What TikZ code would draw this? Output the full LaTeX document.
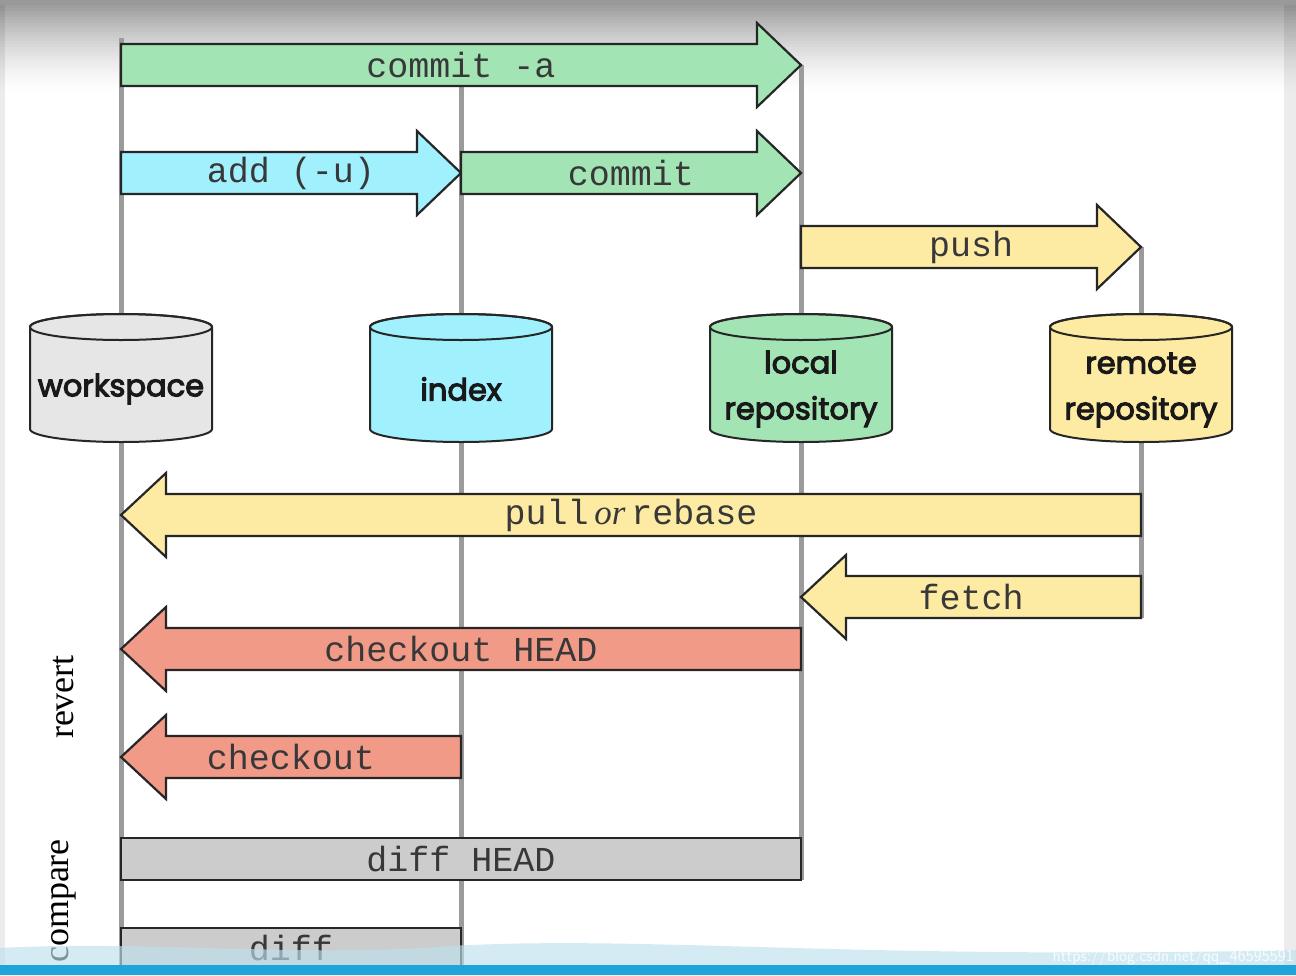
\documentclass[tikz,border=0pt]{standalone}
\usepackage{fontspec}
\setmainfont{Liberation Serif}
\setmonofont{Liberation Mono}
\newfontfamily\cylf{Poppins}[UprightFeatures={FakeBold=3.5}]
\definecolor{cgreen}{RGB}{163,228,181}
\definecolor{ccyan}{RGB}{160,240,254}
\definecolor{cyellow}{RGB}{253,235,163}
\definecolor{csalmon}{RGB}{241,154,136}
\definecolor{cbox}{RGB}{204,204,204}
\definecolor{cws}{RGB}{230,230,230}
\definecolor{cline}{RGB}{155,155,155}
\definecolor{cedge}{RGB}{236,236,236}
\definecolor{cbar}{RGB}{31,163,219}
\definecolor{cwave}{RGB}{190,225,238}
\tikzset{
  arrowbox/.style={draw=black!85,line width=2.2pt,line join=miter},
  mono/.style={font=\ttfamily\fontsize{35}{40}\selectfont,text=black!78,inner sep=0pt},
  cyltext/.style={font=\cylf\fontsize{30.5}{46}\selectfont,align=center,text=black!90,inner sep=0pt},
  sidetext/.style={font=\rmfamily\fontsize{36}{40}\selectfont,rotate=90,inner sep=0pt},
  vline/.style={draw=cline,line width=5pt},
}
% right arrow: #1 tail x, #2 tip x, #3 centre y, #4 colour, #5 text, #6 name
\newcommand{\RArrow}[6]{%
  \draw[arrowbox,fill=#4] (#1,#3-21) -- (#2-44,#3-21) -- (#2-44,#3-42) -- (#2,#3)
     -- (#2-44,#3+42) -- (#2-44,#3+21) -- (#1,#3+21) -- cycle;
  \node[mono] (#6) at ({(#1+#2)/2},#3) {#5};}
% left arrow: #1 tip x, #2 tail x
\newcommand{\LArrow}[6]{%
  \draw[arrowbox,fill=#4] (#2,#3-21) -- (#1+45,#3-21) -- (#1+45,#3-42) -- (#1,#3)
     -- (#1+45,#3+42) -- (#1+45,#3+21) -- (#2,#3+21) -- cycle;
  \node[mono] (#6) at ({(#1+#2)/2},#3) {#5};}
\newcommand{\Cyl}[2]{% centre x, colour
  \draw[draw=black!85,line width=2pt,fill=#2] (#1-91,327) -- (#1-91,429)
     arc (180:0:91 and 13) -- (#1+91,327) arc (360:180:91 and 13) -- cycle;
  \draw[draw=black!85,line width=2pt] (#1,327) ellipse (91 and 13);}
\begin{document}
\begin{tikzpicture}[x=1pt,y=-1pt]
\useasboundingbox (0,0) rectangle (1296,975);
\fill[white] (0,0) rectangle (1296,975);
\fill[cedge] (1284,0) rectangle (1296,975);
\fill[cedge] (0,0) rectangle (5,975);
% top gradient
\fill[black!40] (0,0) rectangle (1296,5);
\foreach \i in {0,...,29}{%
  \pgfmathsetmacro{\op}{0.38*(1-\i/30)^1.6}
  \fill[black,opacity=\op] (0,5+\i*3) rectangle (1296,8+\i*3);
}

% coordinates of the lanes
\coordinate (w0) at (121,38);  \coordinate (w1) at (121,975);
\coordinate (i0) at (461,86);  \coordinate (i1) at (461,970);
\coordinate (l0) at (801,65);  \coordinate (l1) at (801,880);
\coordinate (r0) at (1141,247); \coordinate (r1) at (1141,618);
\draw[vline] (w0) -- (w1);
\draw[vline] (i0) -- (i1);
\draw[vline] (l0) -- (l1);
\draw[vline] (r0) -- (r1);

% arrows
\RArrow{121}{801}{65}{cgreen}{commit -a}{commita}
\RArrow{121}{461}{173}{ccyan}{add (-u)}{add}
\RArrow{461}{801}{173}{cgreen}{commit}{commit}
\RArrow{801}{1141}{247}{cyellow}{push}{push}
\LArrow{121}{1141}{515}{cyellow}{pull\,{\rmfamily\itshape or}\,rebase}{pull}
\LArrow{801}{1141}{597}{cyellow}{fetch}{fetch}
\LArrow{121}{801}{649}{csalmon}{checkout HEAD}{cohead}
\LArrow{121}{461}{757}{csalmon}{checkout}{co}
\draw[arrowbox,fill=cbox] (121,838) rectangle (801,880);
\node[mono] (diffhead) at (461,859) {diff HEAD};
\draw[arrowbox,fill=cbox] (121,928) rectangle (461,972);
\node[mono] (diff) at (291,948) {diff};

% cylinders
\Cyl{121}{cws}
\Cyl{461}{ccyan}
\Cyl{801}{cgreen}
\Cyl{1141}{cyellow}
\node[cyltext] (workspace) at (121,389) {workspace};
\node[cyltext] (index) at (461,389) {index};
\node[cyltext] (local) at (801,389) {local\\repository};
\node[cyltext] (remote) at (1141,390) {remote\\repository};

% side labels
\node[sidetext] (revert) at (64,697) {revert};
\node[sidetext] (compare) at (64,901) {compare};

% bottom band
\fill[cwave,opacity=0.65] (0,948) .. controls (150,940) and (300,958) .. (450,946)
   .. controls (650,935) and (850,960) .. (1296,950) -- (1296,965) -- (0,965) -- cycle;
\fill[cbar] (0,965) rectangle (1296,975);
\node[font=\sffamily\fontsize{17}{18}\selectfont,text=white,opacity=0.85,anchor=east,inner sep=0pt] (wm) at (1294,957) {https://blog.csdn.net/qq\_46595591};
\end{tikzpicture}
\end{document}
